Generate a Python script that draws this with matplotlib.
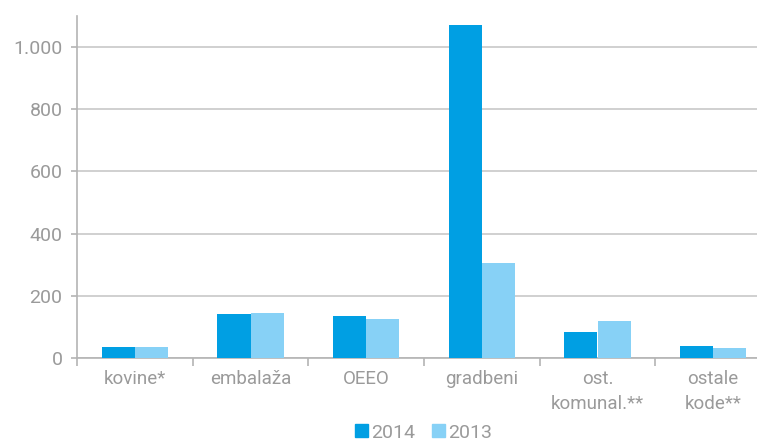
import matplotlib
matplotlib.use("Agg")
import matplotlib.pyplot as plt
from matplotlib.ticker import FuncFormatter
from matplotlib.patches import Patch
import numpy as np

categories = ["kovine*", "embalaža", "OEEO", "gradbeni", "ost.\nkomunal.**", "ostale\nkode**"]
values_2014 = [34, 140, 135, 1072, 83, 39]
values_2013 = [34, 144, 127, 307, 118, 32]
series_labels = ["2014", "2013"]
y_ticks = [0, 200, 400, 600, 800, 1000]

c2014 = "#009fe3"
c2013 = "#87d1f6"
grid_c = "#c8c8c8"
axis_c = "#b4b4b4"
text_c = "#9a9a9a"

plt.rcParams["font.family"] = ["Roboto", "DejaVu Sans"]

W, H = 757, 442
fig = plt.figure(figsize=(W / 100, H / 100), dpi=100)
left, right = 77, 771
bottom, top = 358, 358 - 1100 * 0.311
ax = fig.add_axes([left / W, 1 - bottom / H, (right - left) / W, (bottom - top) / H])

x = np.arange(len(categories)) + 0.5
bw = 0.286
ax.bar(x - bw / 2, values_2014, bw, color=c2014, zorder=3)
ax.bar(x + bw / 2, values_2013, bw, color=c2013, zorder=3)

ax.set_xlim(0, len(categories))
ax.set_ylim(0, 1100)

ax.set_yticks(y_ticks)
ax.yaxis.set_major_formatter(FuncFormatter(lambda v, p: f"{int(v):,}".replace(",", ".")))
ax.grid(axis="y", color=grid_c, linewidth=1.2, zorder=0)

ax.set_xticks(x)
ax.set_xticklabels(categories, linespacing=1.45)
ax.set_xticks(np.arange(len(categories) + 1), minor=True)
ax.tick_params(axis="x", which="major", length=0, pad=9, labelsize=13.5, labelcolor=text_c)
ax.tick_params(axis="x", which="minor", length=6, width=1.2, color=axis_c)
ax.tick_params(axis="y", length=4.5, width=1.2, color=axis_c, pad=6, labelsize=14, labelcolor=text_c)

for s in ["top", "right"]:
    ax.spines[s].set_visible(False)
for s in ["left", "bottom"]:
    ax.spines[s].set_color(axis_c)
    ax.spines[s].set_linewidth(1.2)

handles = [Patch(color=c2014), Patch(color=c2013)]
fig.legend(handles, series_labels, loc="center", bbox_to_anchor=(423.5 / W, 1 - 432.5 / H),
           ncol=2, frameon=False, fontsize=14, labelcolor=text_c,
           handlelength=0.65, handleheight=0.65, handletextpad=0.15, columnspacing=0.9,
           borderaxespad=0, borderpad=0)

fig.savefig("out.png", dpi=100)
